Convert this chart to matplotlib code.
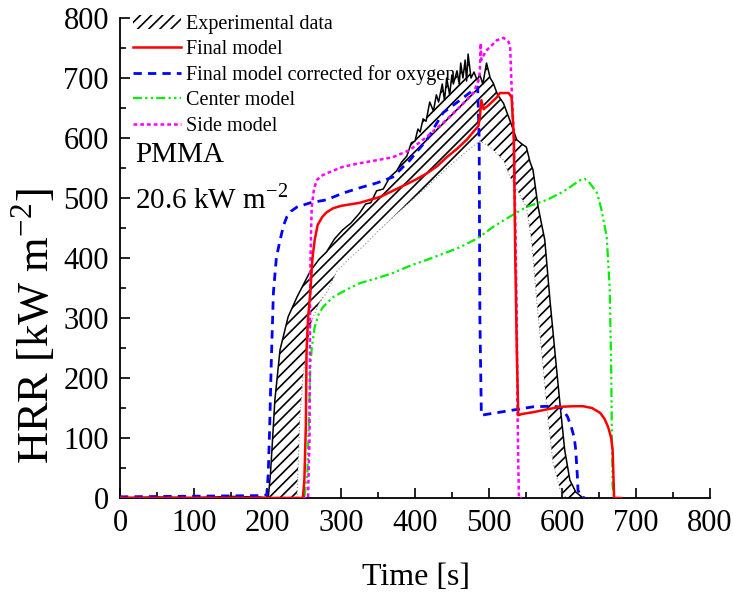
import matplotlib
matplotlib.use('Agg')

import matplotlib.pyplot as plt
from matplotlib.ticker import MultipleLocator

plt.rcParams['font.family'] = ['Liberation Serif', 'DejaVu Serif']
plt.rcParams['mathtext.fontset'] = 'custom'
plt.rcParams['mathtext.rm'] = 'Liberation Serif'
plt.rcParams['hatch.linewidth'] = 1.2

# experimental band: outer edge (early ignition, noisy top, decay right edge)
exp_base_t = [0, 50, 100, 150, 190, 201]
exp_base_hrr = [1, 2, 1, 3, 2, 0]
exp_upper_t = [201, 204, 206, 210, 217, 228, 240, 258, 270, 280, 291, 302, 313, 325, 333,
               340, 348, 357, 366, 375, 382, 389, 395, 400, 404, 407, 411, 415, 420, 425,
               429, 432, 437, 440, 443, 447, 450, 452, 457, 460, 462, 465, 468, 470, 472,
               476, 480, 484, 488, 492, 497, 502, 506, 512, 520, 530, 538, 545, 551, 556,
               560, 567, 576, 583, 590, 597, 603, 610, 618, 628]
exp_upper_hrr = [0, 40, 80, 163, 247, 302, 335, 378, 398, 410, 432, 447, 458, 475, 490,
                 492, 512, 515, 535, 545, 560, 570, 592, 595, 615, 610, 632, 628, 660, 645,
                 672, 660, 690, 663, 700, 672, 705, 690, 712, 690, 725, 700, 730, 695, 740,
                 700, 710, 697, 705, 690, 725, 700, 692, 672, 658, 625, 597, 590, 585, 560,
                 547, 485, 430, 330, 240, 152, 80, 30, 10, 0]
# inner edge (late ignition, grey lower line, decay left edge)
exp_lower_t = [240, 244, 248, 253, 258, 262, 270, 280, 294, 310, 330, 350, 370, 390, 410,
               430, 450, 470, 488, 502, 520, 529, 540, 551, 558, 565, 572, 579, 587, 597, 605]
exp_lower_hrr = [0, 135, 200, 247, 285, 302, 325, 342, 378, 398, 420, 445, 468, 490, 512,
                 535, 557, 578, 595, 585, 563, 535, 510, 485, 430, 330, 240, 147, 60, 13, 0]

final_t = [0, 100, 200, 248, 250, 252, 253, 255, 258, 261, 264, 268, 274, 280, 289, 300,
           325, 353, 380, 400, 416, 430, 443, 457, 470, 481, 486, 488, 490, 493, 500, 511,
           515, 527, 531, 534, 536, 538, 540, 545, 560, 580, 597, 615, 628, 640, 651, 657,
           662, 666, 668, 669, 670, 680]
final_hrr = [0, 0, 0, 0, 30, 120, 247, 300, 342, 400, 430, 455, 468, 476, 483, 487,
             492, 502, 518, 530, 541, 553, 568, 582, 597, 613, 620, 635, 663, 648, 655, 668,
             675, 675, 668, 600, 400, 250, 138, 140, 143, 148, 152, 153, 153, 150, 142, 132,
             118, 100, 80, 40, 0, 0]

corr_t = [0, 100, 190, 199, 201, 203, 205, 208, 212, 217, 222, 226, 232, 240, 258, 280,
          302, 325, 348, 370, 393, 416, 438, 461, 479, 485, 487, 488, 490, 500, 515, 540,
          560, 583, 595, 601, 607, 612, 616, 618, 620, 621, 625, 630]
corr_hrr = [2, 3, 4, 5, 40, 120, 220, 342, 400, 430, 455, 468, 478, 485, 492, 497,
            508, 517, 525, 535, 563, 597, 642, 663, 680, 685, 600, 300, 138, 140, 143, 148,
            152, 153, 152, 147, 135, 118, 100, 80, 40, 13, 3, 0]

center_t = [0, 100, 200, 250, 254, 256, 258, 260, 264, 269, 275, 289, 307, 325, 350, 370,
            395, 416, 440, 461, 485, 506, 530, 551, 579, 600, 610, 624, 630, 637, 647, 653,
            660, 664, 666, 667, 668, 670]
center_hrr = [0, 0, 0, 0, 40, 120, 218, 250, 285, 305, 318, 335, 347, 358, 367, 375,
              388, 397, 408, 418, 433, 452, 470, 485, 497, 510, 518, 530, 532, 525, 508, 480,
              435, 350, 220, 100, 20, 0]

side_t = [0, 100, 200, 255, 257, 258, 259, 260, 263, 267, 273, 280, 302, 325, 348, 370,
          393, 416, 438, 461, 479, 486, 488, 489, 490, 492, 496, 502, 511, 520, 527, 529,
          531, 534, 536, 538, 539, 540, 541, 545]
side_hrr = [0, 0, 0, 0, 100, 375, 440, 485, 515, 530, 537, 541, 552, 558, 563, 568,
            580, 602, 625, 652, 675, 695, 710, 758, 730, 735, 745, 752, 763, 767, 760, 752,
            685, 602, 463, 300, 150, 60, 0, 0]

fig = plt.figure(figsize=(7.33, 5.97), dpi=100)
ax = fig.add_axes([0.1637, 0.1658, 0.8049, 0.804])

# hatched experimental band
band_t = exp_upper_t + exp_lower_t[::-1]
band_hrr = exp_upper_hrr + exp_lower_hrr[::-1]
ax.fill(band_t, band_hrr, facecolor='white', edgecolor='black', hatch='///',
        linewidth=0, label='Experimental data', zorder=1)
ax.plot(exp_base_t, exp_base_hrr, color='black', lw=0.8, zorder=2)
ax.plot(exp_upper_t, exp_upper_hrr, color='black', lw=1.1, zorder=2)
ax.plot(exp_lower_t, exp_lower_hrr, color='0.55', lw=0.8, ls=(0, (1, 2)), zorder=2)

ax.plot(final_t, final_hrr, color='#ff0000', lw=1.8, label='Final model', zorder=4)
ax.plot(corr_t, corr_hrr, color='#0000ff', lw=2.0, ls=(0, (3, 2.2)),
        label='Final model corrected for oxygen', zorder=3)
ax.plot(center_t, center_hrr, color='#00ee00', lw=1.6, ls=(0, (4, 1.5, 1, 1.5, 1, 1.5)),
        label='Center model', zorder=3)
ax.plot(side_t, side_hrr, color='#ff00ff', lw=1.8, ls=(0, (1.5, 1.2)),
        label='Side model', zorder=3)

ax.set_xlim(0, 800)
ax.set_ylim(0, 800)
ax.xaxis.set_major_locator(MultipleLocator(100))
ax.xaxis.set_minor_locator(MultipleLocator(50))
ax.yaxis.set_major_locator(MultipleLocator(100))
ax.yaxis.set_minor_locator(MultipleLocator(50))
ax.tick_params(which='both', direction='in', width=1.2, labelsize=22)
ax.tick_params(axis='x', pad=8)
ax.tick_params(axis='y', pad=8)
ax.tick_params(which='major', length=7)
ax.tick_params(which='minor', length=4)
ax.spines['top'].set_visible(False)
ax.spines['right'].set_visible(False)
ax.spines['left'].set_linewidth(1.3)
ax.spines['bottom'].set_linewidth(1.3)

ax.set_xlabel('Time [s]', fontsize=23)
ax.set_ylabel(r'HRR [kW m$^{-2}$]', fontsize=32)
ax.xaxis.set_label_coords(0.502, -0.135)
ax.yaxis.set_label_coords(-0.105, 0.358)

ax.text(20, 572, 'PMMA', fontsize=21, va='center', ha='left')
ax.text(20, 497, r'20.6 kW m$^{-2}$', fontsize=21, va='center', ha='left')

ax.legend(loc='upper left', bbox_to_anchor=(0.022, 1.006), frameon=False, fontsize=14.5,
          handlelength=2.4, handletextpad=0.25, labelspacing=0.3, borderaxespad=0,
          borderpad=0)

fig.savefig('out.png', dpi=100)
